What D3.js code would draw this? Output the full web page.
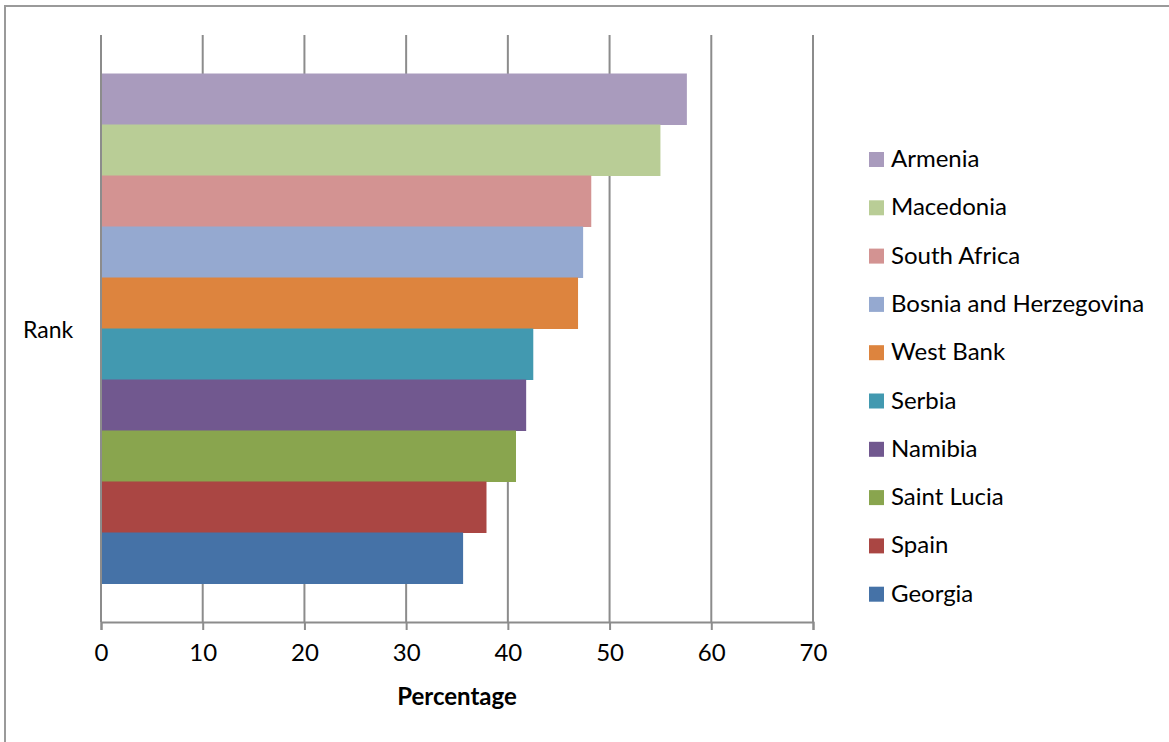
<!DOCTYPE html>
<html>
<head>
<meta charset="utf-8">
<script src="https://cdn.jsdelivr.net/npm/d3@7"></script>
<style>
  body { margin: 0; background: #fff; }
  text { font-family: "Lato", "Open Sans", sans-serif; }
</style>
</head>
<body>
<div id="chart"></div>
<script>
// values, top bar first
var countries = ["Armenia", "Macedonia", "South Africa", "Bosnia and Herzegovina", "West Bank",
                 "Serbia", "Namibia", "Saint Lucia", "Spain", "Georgia"];
var percentages = [57.6, 55.0, 48.2, 47.4, 46.9, 42.5, 41.8, 40.8, 37.9, 35.6];
var colours = ["#a99bbd", "#b9cd96", "#d39392", "#95a9d0", "#dd843e",
               "#4299b0", "#71588f", "#89a54e", "#aa4643", "#4572a7"];
var categories = ["Rank"];
var xTicks = [0, 10, 20, 30, 40, 50, 60, 70];

var width = 1169, height = 742;

var svg = d3.select("#chart").append("svg")
            .attr("width", width)
            .attr("height", height);

// outer frame
svg.append("rect")
   .attr("x", 5)
   .attr("y", 6)
   .attr("width", 1170)
   .attr("height", 745)
   .attr("fill", "none")
   .attr("stroke", "#9a9a9a")
   .attr("stroke-width", 2);

var x = d3.scaleLinear()
          .domain([0, 70])
          .range([101, 813]);

var y = d3.scaleBand()
          .domain(categories)
          .range([35, 622]);

var inner = d3.scaleBand()
              .domain(countries)
              .range([0, y.bandwidth()])
              .paddingOuter(0.755);

// vertical gridlines
svg.append("g")
   .selectAll("line")
   .data(xTicks.slice(1))
   .enter().append("line")
   .attr("x1", function(d) { return x(d); })
   .attr("x2", function(d) { return x(d); })
   .attr("y1", 35)
   .attr("y2", 622)
   .attr("stroke", "#8c8c8c")
   .attr("stroke-width", 2);

// bars
svg.append("g")
   .selectAll("rect")
   .data(countries)
   .enter().append("rect")
   .attr("x", x(0))
   .attr("y", function(d) { return y("Rank") + inner(d); })
   .attr("width", function(d, i) { return x(percentages[i]) - x(0); })
   .attr("height", inner.bandwidth() + 0.5)
   .attr("fill", function(d, i) { return colours[i]; });

// x axis
var xAxis = svg.append("g")
   .attr("transform", "translate(0,622)")
   .call(d3.axisBottom(x).tickValues(xTicks).tickSize(8).tickPadding(14));

xAxis.select(".domain").attr("stroke", "#8c8c8c").attr("stroke-width", 2);
xAxis.selectAll(".tick line").attr("stroke", "#8c8c8c").attr("stroke-width", 2);
xAxis.selectAll(".tick text")
     .attr("fill", "#000")
     .attr("font-size", "24px")
     .attr("font-family", "Lato, 'Open Sans', sans-serif");

// y axis line
svg.append("line")
   .attr("x1", x(0))
   .attr("x2", x(0))
   .attr("y1", 35)
   .attr("y2", 622)
   .attr("stroke", "#8c8c8c")
   .attr("stroke-width", 2);

// category label
svg.append("text")
   .attr("x", 23)
   .attr("y", y("Rank") + y.bandwidth() / 2 + 9)
   .attr("font-size", "23px")
   .attr("fill", "#000")
   .text("Rank");

// axis title
svg.append("text")
   .attr("x", (x(0) + x(70)) / 2)
   .attr("y", 705)
   .attr("text-anchor", "middle")
   .attr("font-size", "24px")
   .attr("font-weight", "bold")
   .attr("fill", "#000")
   .text("Percentage");

// legend
var legend = svg.append("g")
   .selectAll("g")
   .data(countries)
   .enter().append("g")
   .attr("transform", function(d, i) { return "translate(869," + (152 + i * 48.3) + ")"; });

legend.append("rect")
      .attr("width", 15)
      .attr("height", 15)
      .attr("fill", function(d, i) { return colours[i]; });

legend.append("text")
      .attr("x", 22)
      .attr("y", 15)
      .attr("font-size", "24px")
      .attr("fill", "#000")
      .text(function(d) { return d; });
</script>
</body>
</html>
